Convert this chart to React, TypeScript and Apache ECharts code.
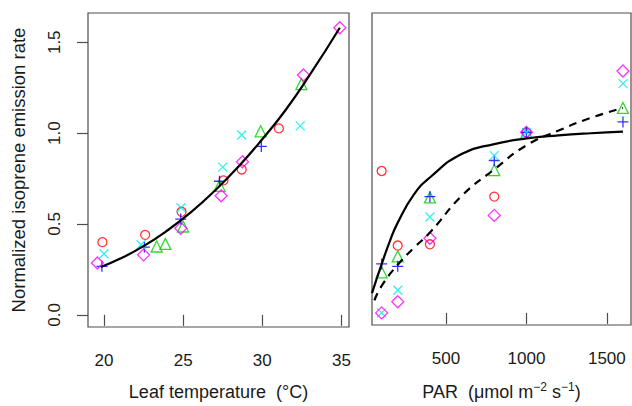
import React, { useEffect, useRef } from "react";
import * as echarts from "echarts";

// ---- Data ----
const tempTicks = [20, 25, 30, 35];
const parTicks = [500, 1000, 1500];
const rateTicks = [0, 0.5, 1.0, 1.5];

// Left panel: leaf temperature (°C) vs normalized rate
const tempRed = [[19.9, 0.40], [22.6, 0.44], [24.9, 0.567], [27.55, 0.74], [28.7, 0.80], [31.05, 1.026]];
const tempGreen = [[23.33, 0.376], [23.88, 0.39], [25.0, 0.486], [27.3, 0.71], [29.9, 1.01], [32.47, 1.27]];
const tempBlue = [[19.87, 0.267], [22.55, 0.373], [24.85, 0.527], [27.3, 0.735], [29.94, 0.927]];
const tempCyan = [[20.0, 0.336], [22.34, 0.386], [24.87, 0.589], [27.5, 0.813], [28.7, 0.99], [32.4, 1.04]];
const tempMagenta = [[19.58, 0.285], [22.5, 0.33], [24.85, 0.476], [27.4, 0.655], [28.75, 0.842], [32.6, 1.32], [34.9, 1.58]];
const tempFit = [[19.8, 0.263], [21, 0.308], [22.5, 0.378], [24, 0.464], [25.5, 0.565], [27, 0.683], [28.5, 0.816], [30, 0.966], [31.5, 1.13], [33, 1.32], [34.9, 1.58]];

// Right panel: PAR vs normalized rate
const parRed = [[100, 0.786], [200, 0.373], [400, 0.38], [800, 0.644], [1000, 1.0]];
const parGreen = [[100, 0.225], [200, 0.313], [400, 0.64], [800, 0.791], [1000, 1.0], [1600, 1.135]];
const parBlue = [[100, 0.271], [200, 0.258], [400, 0.644], [800, 0.844], [1000, 1.0], [1600, 1.058]];
const parCyan = [[100, 0.0], [200, 0.125], [400, 0.531], [800, 0.871], [1000, 1.0], [1600, 1.27]];
const parMagenta = [[100, 0.0], [200, 0.062], [400, 0.413], [800, 0.54], [1000, 1.0], [1600, 1.34]];
const parFitSolid = [[40, 0.11], [100, 0.27], [150, 0.395], [200, 0.5], [300, 0.655], [400, 0.75], [600, 0.882], [800, 0.935], [1000, 0.966], [1200, 0.983], [1400, 0.995], [1600, 1.004]];
const parFitDashed = [[55, 0.07], [100, 0.15], [200, 0.267], [300, 0.36], [400, 0.445], [600, 0.65], [800, 0.795], [1000, 0.928], [1200, 1.01], [1400, 1.08], [1600, 1.135]];

const RED = "#FF0000";
const GREEN = "#00CD00";
const BLUE = "#0000FF";
const CYAN = "#00EEEE";
const MAGENTA = "#FF00FF";

const PLUS = "path://M5,0L5,10M0,5L10,5";
const CROSS = "path://M0,0L10,10M10,0L0,10";

const FONT = "Liberation Sans, Arial, Helvetica, sans-serif";
const FRAME = "#4d4d4d";
const INK = "#1a1a1a";

function pts(
  data: number[][],
  color: string,
  symbol: string,
  size: number,
  axis: number
) {
  return {
    type: "scatter",
    xAxisIndex: axis,
    yAxisIndex: axis,
    data,
    symbol,
    symbolSize: size,
    itemStyle: { color: "rgba(0,0,0,0)", borderColor: color, borderWidth: 1.3 },
    z: 3,
  };
}

export default function App() {
  const ref = useRef<HTMLDivElement>(null);
  useEffect(() => {
    if (!ref.current) return;
    const chart = echarts.init(ref.current, null, { renderer: "svg" });
    const labelStyle = { fontFamily: FONT, fontSize: 17, color: INK };
    const xAxisBase = {
      type: "value",
      axisLine: { show: false },
      splitLine: { show: false },
      axisTick: { show: true, inside: false, length: 11, lineStyle: { color: FRAME, width: 1.2 } },
      nameLocation: "middle",
      nameGap: 56,
      nameTextStyle: { fontFamily: FONT, fontSize: 18, color: INK },
    };
    chart.setOption({
      animation: false,
      grid: [
        { left: 88, top: 13, width: 261, height: 319, show: true, borderColor: FRAME, borderWidth: 1.2, backgroundColor: "transparent" },
        { left: 372, top: 13, width: 259, height: 319, show: true, borderColor: FRAME, borderWidth: 1.2, backgroundColor: "transparent" },
      ],
      xAxis: [
        {
          ...xAxisBase,
          gridIndex: 0,
          min: 18.99,
          max: 35.48,
          name: "Leaf temperature\u00a0\u00a0(°C)",
          axisTick: { ...xAxisBase.axisTick, customValues: tempTicks },
          axisLabel: { ...labelStyle, margin: 25, customValues: tempTicks, formatter: (v: number) => String(v) },
        },
        {
          ...xAxisBase,
          gridIndex: 1,
          min: 40,
          max: 1650,
          name: "PAR\u00a0\u00a0(μmol m{sup|−2} s{sup|−1})",
          nameTextStyle: {
            ...xAxisBase.nameTextStyle,
            rich: { sup: { fontFamily: FONT, fontSize: 12, color: INK, padding: [0, 0, 10, 0] } },
          },
          axisTick: { ...xAxisBase.axisTick, customValues: parTicks },
          axisLabel: { ...labelStyle, margin: 25, customValues: parTicks, formatter: (v: number) => String(v) },
        },
      ],
      yAxis: [
        {
          type: "value",
          gridIndex: 0,
          min: -0.067,
          max: 1.661,
          axisLine: { show: false },
          splitLine: { show: false },
          axisTick: { show: true, length: 11, customValues: rateTicks, lineStyle: { color: FRAME, width: 1.2 } },
          axisLabel: {
            ...labelStyle,
            rotate: 90,
            align: "center",
            verticalAlign: "bottom",
            margin: 25,
            customValues: rateTicks,
            formatter: (v: number) => v.toFixed(1),
          },
          name: "Normalized isoprene emission rate",
          nameLocation: "middle",
          nameRotate: 90,
          nameGap: 60,
          nameTextStyle: { fontFamily: FONT, fontSize: 18.5, color: INK },
        },
        {
          type: "value",
          gridIndex: 1,
          min: -0.067,
          max: 1.661,
          show: false,
          splitLine: { show: false },
        },
      ],
      series: [
        pts(tempRed, RED, "circle", 9, 0),
        pts(tempGreen, GREEN, "triangle", 11, 0),
        pts(tempBlue, BLUE, PLUS, 11, 0),
        pts(tempCyan, CYAN, CROSS, 9, 0),
        pts(tempMagenta, MAGENTA, "diamond", 12, 0),
        {
          type: "line",
          xAxisIndex: 0,
          yAxisIndex: 0,
          data: tempFit,
          smooth: true,
          showSymbol: false,
          lineStyle: { color: "#000", width: 2.2 },
          z: 4,
        },
        pts(parRed, RED, "circle", 9, 1),
        pts(parGreen, GREEN, "triangle", 11, 1),
        pts(parBlue, BLUE, PLUS, 11, 1),
        pts(parCyan, CYAN, CROSS, 9, 1),
        pts(parMagenta, MAGENTA, "diamond", 12, 1),
        {
          type: "line",
          xAxisIndex: 1,
          yAxisIndex: 1,
          data: parFitSolid,
          smooth: true,
          showSymbol: false,
          lineStyle: { color: "#000", width: 2.2 },
          z: 4,
        },
        {
          type: "line",
          xAxisIndex: 1,
          yAxisIndex: 1,
          data: parFitDashed,
          smooth: true,
          showSymbol: false,
          lineStyle: { color: "#000", width: 2.2, type: [8, 6] },
          z: 4,
        },
      ],
    });
    return () => chart.dispose();
  }, []);
  return (
    <div
      ref={ref}
      style={{ position: "fixed", left: 0, top: 0, width: 632, height: 406, background: "#fff" }}
    />
  );
}
